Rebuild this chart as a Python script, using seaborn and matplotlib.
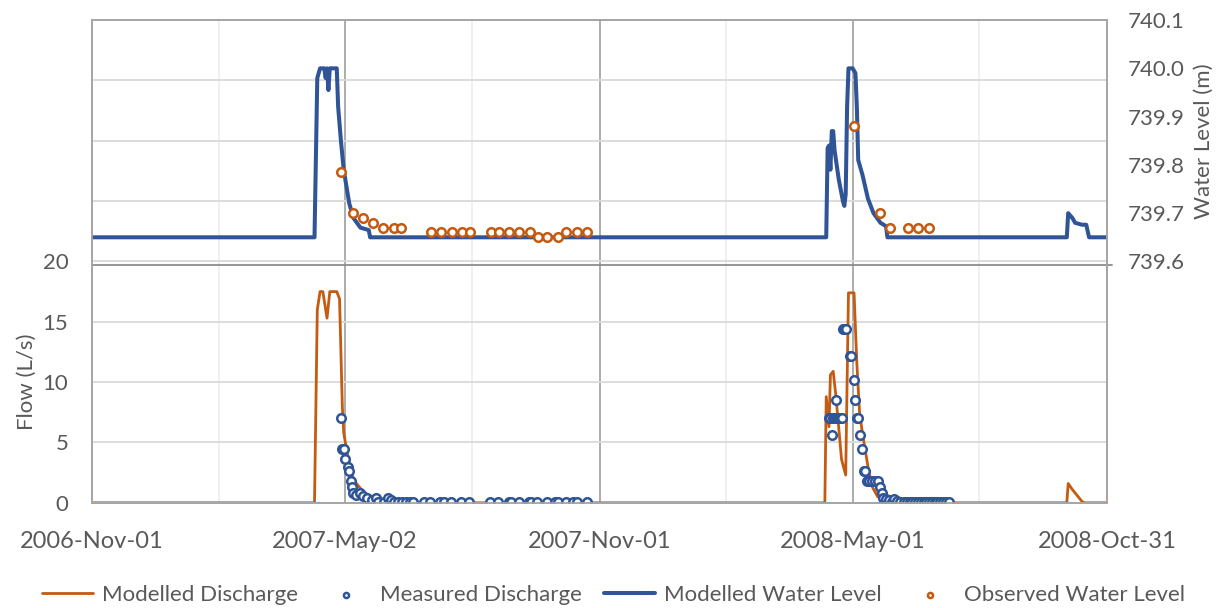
import pandas as pd
import matplotlib.pyplot as plt
import matplotlib.dates as mdates
import seaborn as sns

# modelled discharge (L/s), break points of the daily series
q_dates = ["2006-11-01", "2007-04-10", "2007-04-12", "2007-04-14", "2007-04-16", "2007-04-19",
           "2007-04-21", "2007-04-26", "2007-04-28", "2007-04-30", "2007-05-01", "2007-05-04",
           "2007-05-08", "2007-05-18", "2007-05-26", "2007-05-31",
           "2008-04-11", "2008-04-12", "2008-04-14", "2008-04-15", "2008-04-17", "2008-04-19",
           "2008-04-23", "2008-04-26", "2008-04-27", "2008-04-28", "2008-05-02", "2008-05-04",
           "2008-05-06", "2008-05-08", "2008-05-12", "2008-05-15", "2008-05-19", "2008-05-24",
           "2008-05-30", "2008-10-02", "2008-10-03", "2008-10-06", "2008-10-13", "2008-10-15",
           "2008-10-31"]
q_vals = [0, 0, 16.0, 17.5, 17.5, 15.3,
          17.5, 17.5, 16.9, 8.0, 5.8, 3.8,
          1.9, 0.5, 0.1, 0,
          0, 8.8, 6.3, 10.6, 10.9, 8.8,
          3.6, 2.3, 10.0, 17.4, 17.4, 11.6,
          7.4, 5.8, 3.0, 1.35, 0.5, 0.25,
          0, 0, 1.6, 1.1, 0.1, 0,
          0]

# measured discharge (L/s)
mq_dates = ["2007-04-29", "2007-04-30", "2007-05-01", "2007-05-02", "2007-05-04", "2007-05-05",
            "2007-05-06", "2007-05-07", "2007-05-08", "2007-05-10", "2007-05-13", "2007-05-15",
            "2007-05-18", "2007-05-21", "2007-05-24", "2007-05-26", "2007-05-30", "2007-06-02",
            "2007-06-04", "2007-06-06", "2007-06-09", "2007-06-12", "2007-06-15", "2007-06-18",
            "2007-06-20", "2007-06-28", "2007-07-02", "2007-07-09", "2007-07-12", "2007-07-17",
            "2007-07-24", "2007-07-30", "2007-08-14", "2007-08-20", "2007-08-28", "2007-08-29",
            "2007-09-04", "2007-09-11", "2007-09-13", "2007-09-17", "2007-09-24", "2007-09-30",
            "2007-10-02", "2007-10-08", "2007-10-13", "2007-10-16", "2007-10-23",
            "2008-04-14", "2008-04-15", "2008-04-16", "2008-04-17", "2008-04-18", "2008-04-19",
            "2008-04-20", "2008-04-21", "2008-04-22", "2008-04-23", "2008-04-24", "2008-04-25",
            "2008-04-26", "2008-04-29", "2008-04-30", "2008-05-02", "2008-05-03", "2008-05-04",
            "2008-05-05", "2008-05-06", "2008-05-08", "2008-05-09", "2008-05-10", "2008-05-11",
            "2008-05-13", "2008-05-15", "2008-05-17", "2008-05-19", "2008-05-21", "2008-05-22",
            "2008-05-23", "2008-05-25", "2008-05-27", "2008-05-29", "2008-05-31", "2008-06-02",
            "2008-06-04", "2008-06-07", "2008-06-09", "2008-06-11", "2008-06-13", "2008-06-15",
            "2008-06-17", "2008-06-19", "2008-06-21", "2008-06-23", "2008-06-25", "2008-06-27",
            "2008-06-29", "2008-07-01", "2008-07-03", "2008-07-05", "2008-07-07", "2008-07-09"]
mq_vals = [7.0, 4.5, 4.5, 3.6, 3.0, 2.65,
           1.8, 1.3, 0.8, 0.65, 0.8, 0.6,
           0.4, 0.25, 0.4, 0.1, 0.1, 0.4,
           0.25, 0.1, 0.08, 0.05, 0.05, 0.05,
           0.05, 0.05, 0.05, 0.05, 0.05, 0.05,
           0.05, 0.05, 0.05, 0.05, 0.05, 0.05,
           0.05, 0.05, 0.05, 0.05, 0.05, 0.05,
           0.05, 0.05, 0.05, 0.05, 0.05,
           7.0, 7.0, 5.6, 7.0, 7.0, 8.5,
           7.0, 7.0, 7.0, 7.0, 14.4, 14.4,
           14.4, 12.2, 12.2, 10.2, 8.5, 7.0,
           7.0, 5.6, 4.5, 2.65, 2.65, 1.8,
           1.8, 1.8, 1.8, 1.8, 1.3, 0.8,
           0.4, 0.3, 0.2, 0.1, 0.35, 0.15,
           0.1, 0.05, 0.05, 0.05, 0.05, 0.05,
           0.05, 0.05, 0.05, 0.05, 0.05, 0.05,
           0.05, 0.05, 0.05, 0.05, 0.05, 0.05]

# modelled water level (m)
wl_dates = ["2006-11-01", "2007-04-10", "2007-04-12", "2007-04-14", "2007-04-17", "2007-04-18",
            "2007-04-19", "2007-04-20", "2007-04-21", "2007-04-26", "2007-04-27", "2007-04-29",
            "2007-05-01", "2007-05-05", "2007-05-08", "2007-05-13", "2007-05-19", "2007-05-20",
            "2008-04-12", "2008-04-13", "2008-04-14", "2008-04-15", "2008-04-16", "2008-04-17",
            "2008-04-18", "2008-04-21", "2008-04-24", "2008-04-25", "2008-04-26", "2008-04-27",
            "2008-04-28", "2008-05-01", "2008-05-03", "2008-05-04", "2008-05-05", "2008-05-08",
            "2008-05-12", "2008-05-16", "2008-05-21", "2008-05-25", "2008-05-26",
            "2008-10-02", "2008-10-03", "2008-10-06", "2008-10-08", "2008-10-13", "2008-10-16",
            "2008-10-18", "2008-10-31"]
wl_vals = [739.65, 739.65, 739.98, 740.0, 740.0, 739.98,
           740.0, 739.955, 740.0, 740.0, 739.92, 739.85,
           739.79, 739.72, 739.69, 739.67, 739.665, 739.65,
           739.65, 739.835, 739.84, 739.79, 739.87, 739.87,
           739.83, 739.77, 739.725, 739.715, 739.74, 739.92,
           740.0, 740.0, 739.99, 739.92, 739.81, 739.78,
           739.73, 739.70, 739.68, 739.673, 739.65,
           739.65, 739.70, 739.69, 739.68, 739.676, 739.676,
           739.65, 739.65]

# observed water level (m)
ow_dates = ["2007-04-29", "2007-05-08", "2007-05-15", "2007-05-22", "2007-05-29", "2007-06-06",
            "2007-06-11", "2007-07-03", "2007-07-10", "2007-07-18", "2007-07-25", "2007-07-31",
            "2007-08-15", "2007-08-21", "2007-08-28", "2007-09-04", "2007-09-12", "2007-09-18",
            "2007-09-24", "2007-10-02", "2007-10-08", "2007-10-16", "2007-10-23",
            "2008-05-02", "2008-05-21", "2008-05-28", "2008-06-10", "2008-06-17", "2008-06-25"]
ow_vals = [739.785, 739.70, 739.69, 739.68, 739.67, 739.67,
           739.67, 739.66, 739.66, 739.66, 739.66, 739.66,
           739.66, 739.66, 739.66, 739.66, 739.66, 739.65,
           739.65, 739.65, 739.66, 739.66, 739.66,
           739.88, 739.70, 739.67, 739.67, 739.67, 739.67]

x_ticks = ["2006-11-01", "2007-05-02", "2007-11-01", "2008-05-01", "2008-10-31"]
x_minor = ["2007-01-31", "2007-08-01", "2008-01-31", "2008-07-31"]

ORANGE = "#c55a11"
BLUE = "#2f5597"
GREY = "#595959"

sns.set_style("white")
plt.rcParams['font.family'] = ['Lato', 'DejaVu Sans']
plt.rcParams['font.size'] = 15

fig, ax = plt.subplots(figsize=(12.22, 6.08), dpi=100)
fig.subplots_adjust(left=0.0753, right=0.906, top=0.967, bottom=0.173)
ax2 = ax.twinx()

sns.lineplot(x=pd.to_datetime(q_dates), y=q_vals, ax=ax, color=ORANGE, lw=2.0,
             label="Modelled Discharge")
sns.scatterplot(x=pd.to_datetime(mq_dates), y=mq_vals, ax=ax, marker="o", s=38,
                color="white", edgecolor=BLUE, linewidth=1.8, label="Measured Discharge", zorder=3)
sns.lineplot(x=pd.to_datetime(wl_dates), y=wl_vals, ax=ax2, color=BLUE, lw=2.9,
             label="Modelled Water Level")
sns.scatterplot(x=pd.to_datetime(ow_dates), y=ow_vals, ax=ax2, marker="o", s=38,
                color="white", edgecolor=ORANGE, linewidth=1.8, label="Observed Water Level", zorder=3)

ax.set_xlim(pd.Timestamp("2006-11-01"), pd.Timestamp("2008-10-31"))
ax.set_xticks(pd.to_datetime(x_ticks))
ax.set_xticks(pd.to_datetime(x_minor), minor=True)
ax.xaxis.set_major_formatter(mdates.DateFormatter("%Y-%b-%d"))

ax.set_ylim(0, 40)
ax.set_yticks(range(0, 41, 5))
ax.set_yticklabels([str(v) if v <= 20 else "" for v in range(0, 41, 5)])
ax2.set_ylim(739.1, 740.1)
wl_ticks = [739.6, 739.7, 739.8, 739.9, 740.0, 740.1]
ax2.set_yticks(wl_ticks)
ax2.set_yticklabels([f"{v:.1f}" for v in wl_ticks])

ax.grid(axis="y", color="#d9d9d9", lw=1.3)
ax.grid(axis="x", which="major", color="#a6a6a6", lw=1.3)
ax.grid(axis="x", which="minor", color="#efefef", lw=1.3)
ax.set_axisbelow(True)
ax2.grid(False)
ax2.axhline(739.593, xmin=0, xmax=1.005, color="#8c8c8c", lw=1.3, clip_on=False)

for a in (ax, ax2):
    for s in a.spines.values():
        s.set_color("#a6a6a6")
        s.set_linewidth(1.3)
ax.tick_params(axis="x", which="both", length=0, pad=20, labelcolor=GREY, labelsize=17)
ax.tick_params(axis="y", length=0, pad=17, labelcolor=GREY, labelsize=16)
ax2.tick_params(axis="y", length=0, pad=15, labelcolor=GREY, labelsize=16)

ax.set_xlabel("")
ax.set_ylabel("Flow (L/s)", color=GREY, fontsize=16)
ax.yaxis.set_label_coords(-0.054, 0.25)
ax2.set_ylabel("Water Level (m)", color=GREY, fontsize=16, rotation=90)
ax2.yaxis.set_label_coords(1.085, 0.75)

h1, l1 = ax.get_legend_handles_labels()
h2, l2 = ax2.get_legend_handles_labels()
ax.get_legend().remove()
ax2.get_legend().remove()
fig.legend(h1 + h2, l1 + l2, loc="center", bbox_to_anchor=(0.502, 0.021), ncol=4,
           frameon=False, fontsize=16, handlelength=2.3, handletextpad=0.4,
           columnspacing=1.0, markerscale=0.6, labelcolor=GREY)

plt.savefig("out.png", dpi=100)
plt.close()
